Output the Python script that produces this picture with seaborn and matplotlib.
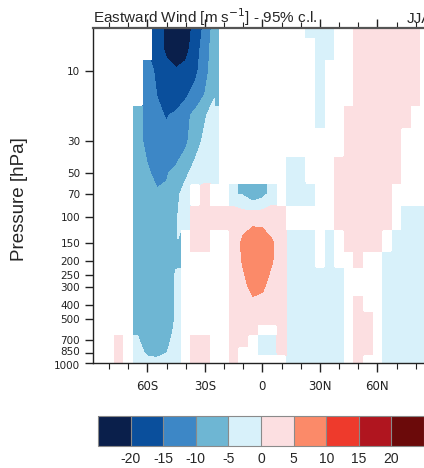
import numpy as np
import matplotlib
matplotlib.use("Agg")
import matplotlib.pyplot as plt
from matplotlib.colors import ListedColormap, BoundaryNorm
from matplotlib.cm import ScalarMappable
from matplotlib.ticker import NullLocator
from matplotlib.transforms import ScaledTranslation
import seaborn as sns

n = np.nan
B = -2.5   # weak significant easterly  (-5..0)
P = 2.5    # weak significant westerly  (0..5)

# latitude columns (deg, S negative) and pressure rows (hPa)
lat = list(range(-90, 95, 5))
lev = [5, 7, 10, 15, 20, 30, 50, 70, 100, 150, 200, 250, 300, 400, 500, 600, 700, 850, 925, 1000]

# eastward wind difference [m/s], NaN = not significant at 95%
wind = [
    # 5 hPa
    [n,n,n,n,n,n,n, -18,-21,-26,-23,-18,-14,-8, n,n,n,n,n,n,n,n,n, B,B,B, n,n, P,P,P,P,P,P,P, n,n],
    # 7
    [n,n,n,n,n,n,n, -18,-21,-25,-22,-17,-13,-7, n,n,n,n,n,n,n,n,n,n, B,B, n,n, P,P,P,P,P,P,P, n,n],
    # 10
    [n,n,n,n,n,n, -13,-16,-18.5,-19,-18,-16,-12.5,-6, n,n,n,n,n,n,n,n,n,n, B, n,n,n, P,P,P,P,P,P,P, n,n],
    # 15
    [n,n,n,n,n,n, -12,-15,-16.5,-16.5,-15.5,-13,-9.5,-5.2, n,n,n,n,n,n,n,n,n,n, B, n,n,n, P,P,P,P,P,P,P, n,n],
    # 20
    [n,n,n,n,n, -8,-12,-14.5,-15.2,-14.5,-11.5,-8.5,-5.5,-3, n,n,n,n,n,n,n,n,n,n, B, n,n, P,P,P,P,P,P,P, n,n,n],
    # 30
    [n,n,n,n,n, -9,-11,-13,-14,-13.5,-11,-7,-4,-2, n,n,n,n,n,n,n,n,n,n,n,n,n, P,P,P,P,P,P, n,n,n,n],
    # 50
    [n,n,n,n,n, -6,-9.5,-11,-10.5,-8.5,-6,-3,-2,-2, n,n,n,n,n,n,n, B,B, n,n,n, P,P,P,P,P,P,P, n,n,n,n],
    # 70
    [n,n,n,n,n, -6.5,-9,-9.5,-9,-6.5,-2.5, n, P, n,n, B,-5.5,-8,-6.5,-2, n, B,B,B, n,n, P,P,P,P,P,P, n,n,n,n,n],
    # 100
    [n,n,n,n,n, -7,-9,-9.5,-9,-5.5,-2.5, P,P,P,P,P,3,3.5,3.5,P,P, n,n,n,n,n, P,P,P,P,P,P, n, B,B,B,B],
    # 150
    [n,n,n,n,n, -7.5,-9.5,-9.5,-8.5,-5.6, n, P,P, n,n, P,6,8,7.5,5.5,P, B,B,B, n, B, n, P,P,P,P, n, B,B,B,B,B],
    # 200
    [n,n,n,n,n, -7.5,-9.5,-9.5,-8.5,-5.6, n,n,n,n,n, P,5.5,8,7.5,5.3,P, B,B,B, n, B, n,n, P, n,n, B,B,B,B,B,B],
    # 250
    [n,n,n,n,n, -7.5,-9.5,-9.5,-8,-4.5, n,n,n,n,n, P,4.5,7.5,7,4,P, B,B,B,B,B,B, n,n,n,n, B,B,B,B,B,B],
    # 300
    [n,n,n,n,n, -7.5,-9.5,-9.5,-8,-4.5, n,n,n,n,n, P,3.5,6.5,5.8,3,P, B,B,B,B,B,B, n,n,n,n, B,B,B,B,B,B],
    # 400
    [n,n,n,n,n, -7,-9,-9,-7.5,-4.5, n,n,n,n,n, P,P,3.5,3,P,P, B,B,B,B,B,B, n, P, n,n, B,B,B,B,B,B],
    # 500
    [n,n,n,n,n, -6.5,-8.5,-9,-7.5,-4.5, n,n,n,n,n, P,P,P,P,P,P, B,B,B,B,B,B, n, P,P, n, B,B,B,B,B,B],
    # 600
    [n,n,n,n,n, -5.5,-8,-8.5,-7,-4, n,n,n,n,n, P,P,P, n,n, P, B,B,B,B,B,B, n, P,P, n, B,B,B,B,B,B],
    # 700
    [n,n,n, P, n, -4.5,-7.5,-8,-6.5,-3, n, P,P, n,n, P,P, n, B,B, P, B,B,B,B,B,B, n, P,P, n, B,B,B,B,B,B],
    # 850
    [n,n,n, P, n, -3,-6,-6.5,-5.2,-2.5, n, P,P, n,n, P, n,n, B,B, P, B,B,B,B,B,B, n, P,P, n, B,B,B,B,B,B],
    # 925
    [n,n,n, P, n, -2,-4.5,-4.8,-3,-2, n, P,P, n,n, P, n,n,n,n,n, B,B,B,B,B,B, n, P, n,n, B,B,B,B,B,B],
    # 1000
    [n,n,n, P, n, -2,-2.5,-2.5,-2.5,-2, n, P,P, n,n, P, n,n,n,n,n, B,B,B,B,B,B, n, P, n,n, B,B,B,B,B,B],
]

cbar_ticks = [-20, -15, -10, -5, 0, 5, 10, 15, 20]
colors = ["#0a1f4b", "#0a4f9c", "#3d87c6", "#6eb6d3", "#d8f1fa",
          "#fcdfe1", "#fb8a69", "#ee3a2c", "#b0151f", "#6b0a0a"]
ytick_vals = [10, 30, 50, 70, 100, 150, 200, 250, 300, 400, 500, 700, 850, 1000]
xtick_vals = [-60, -30, 0, 30, 60]
xtick_labels = ["60S", "30S", "0", "30N", "60N"]

sns.set_theme(style="ticks")
plt.rcParams['font.family'] = ['DejaVu Sans']
plt.rcParams['axes.unicode_minus'] = False

fig = plt.figure(figsize=(4.24, 4.68), dpi=100)
W, H = 424.0, 468.0
ax = fig.add_axes([92.7 / W, 105 / H, 339.3 / W, 335 / H])

lat_a = np.array(lat, float)
lev_a = np.array(lev, float)
Z = np.ma.masked_invalid(np.array(wind, dtype=float))

lat_edges = np.concatenate([[lat_a[0] - 2.5], (lat_a[:-1] + lat_a[1:]) / 2, [lat_a[-1] + 2.5]])
lev_edges = np.concatenate([[4.0], np.sqrt(lev_a[:-1] * lev_a[1:]), [1100.0]])

palette = sns.color_palette(colors)
cmap = ListedColormap(palette)
bounds = [-60] + cbar_ticks + [60]
norm = BoundaryNorm(bounds, cmap.N)

ax.pcolormesh(lat_edges, lev_edges, Z, cmap=cmap, norm=norm, shading="flat",
              edgecolors="face", linewidth=0)
ax.contourf(lat_a, lev_a, Z, levels=bounds, colors=palette)

ax.set_yscale("log")
ax.set_ylim(1000, 5.08)
ax.set_xlim(-88.5, 88.5)
ax.set_yticks(ytick_vals)
ax.set_yticklabels([str(v) for v in ytick_vals])
ax.yaxis.set_minor_locator(NullLocator())
ax.set_xticks(xtick_vals)
ax.set_xticklabels(xtick_labels)
ax.set_xticks(list(range(-80, 90, 10)), minor=True)

ax.tick_params(axis="x", which="major", direction="out", length=6.5, width=1.0,
               bottom=True, top=True, labelsize=8.5, pad=6, colors="#222222")
ax.tick_params(axis="x", which="minor", direction="out", length=4, width=0.8,
               bottom=True, top=True, colors="#222222")
ax.tick_params(axis="y", which="major", direction="out", length=6, width=1.0,
               left=True, right=True, labelsize=7.5, pad=3, colors="#222222")
# keep the two crowded bottom labels apart
ylabels = ax.get_yticklabels()
ylabels[-2].set_transform(ylabels[-2].get_transform() + ScaledTranslation(0, 1.5 / 72, fig.dpi_scale_trans))
ylabels[-1].set_transform(ylabels[-1].get_transform() + ScaledTranslation(0, -1.5 / 72, fig.dpi_scale_trans))

for s in ax.spines.values():
    s.set_visible(True)
    s.set_linewidth(1.0)
    s.set_color("#222222")
ax.spines["top"].set_color("#555555")
ax.spines["top"].set_linewidth(1.6)

ax.set_title("Eastward Wind [m s$^{-1}$] - 95% c.l.", loc="left", fontsize=11,
             family="Liberation Sans", pad=3)
ax.set_title("JJA", loc="right", fontsize=11, family="Liberation Sans", pad=3)
ax.set_ylabel("Pressure [hPa]", fontsize=13.5, family="Liberation Sans")
ax.yaxis.set_label_coords((28 - 92.7) / 339.3, 0.49)

cax = fig.add_axes([98 / W, 22 / H, 326 / W, 30 / H])
sm = ScalarMappable(norm=norm, cmap=cmap)
cb = fig.colorbar(sm, cax=cax, orientation="horizontal", spacing="uniform",
                  ticks=cbar_ticks, drawedges=True)
cb.outline.set_edgecolor("#8a8a8a")
cb.outline.set_linewidth(0.8)
cb.dividers.set_color("#8a8a8a")
cb.dividers.set_linewidth(0.8)
cax.minorticks_off()
cax.tick_params(which="both", length=0, labelsize=10, pad=4)
for t in cax.get_xticklabels():
    t.set_family("Liberation Sans")

fig.savefig("out.png", dpi=100)
